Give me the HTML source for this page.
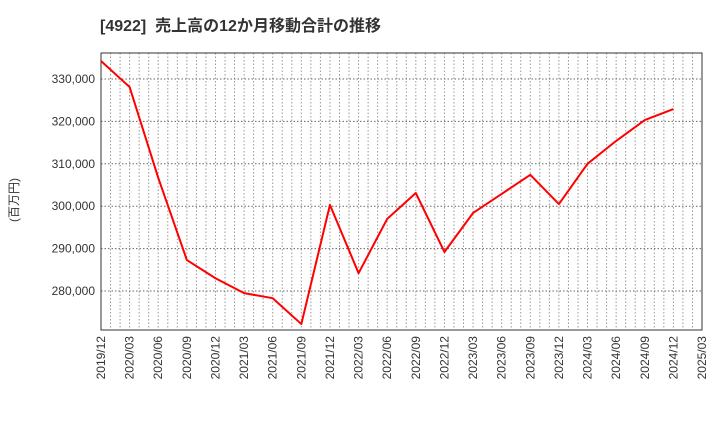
<!DOCTYPE html>
<html><head><meta charset="utf-8"><style>
body{margin:0;background:#fff;}
svg{display:block;font-family:"Liberation Sans","Noto Sans CJK JP",sans-serif;}
</style></head><body>
<svg id="c" width="720" height="440">
<text x="100" y="31" font-size="16" font-weight="bold" fill="#333">[4922]&#160;&#160;売上高の12か月移動合計の推移</text>
<text transform="translate(18,200) rotate(-90)" font-size="12" fill="#333" text-anchor="middle">(百万円)</text>
<g id="grid"></g><g id="axes"></g><g id="marks"></g>
</svg>
<script>
const xLabels=["2019/12","2020/03","2020/06","2020/09","2020/12","2021/03","2021/06","2021/09","2021/12","2022/03","2022/06","2022/09","2022/12","2023/03","2023/06","2023/09","2023/12","2024/03","2024/06","2024/09","2024/12","2025/03"];
const values=[334250,328100,306700,287300,283000,279500,278300,272200,300300,284200,297000,303100,289200,298400,302900,307400,300500,310000,315400,320300,322900];
const yTicks=[280000,290000,300000,310000,320000,330000];
const yTickLabels=["280,000","290,000","300,000","310,000","320,000","330,000"];
const L=101,R=702,T=53,B=330,yMin=270800,yMax=336130;
const ns="http://www.w3.org/2000/svg";
const xs=i=>L+(R-L)*i/(xLabels.length-1);
const ys=v=>B-(v-yMin)/(yMax-yMin)*(B-T);
function mk(p,t,a){const e=document.createElementNS(ns,t);for(const k in a)e.setAttribute(k,a[k]);document.getElementById(p).appendChild(e);return e;}
const n=(xLabels.length-1)*3;
for(let m=1;m<n;m++){const x=L+(R-L)*m/n;
 const g=mk('grid','line',{x1:x,x2:x,y1:T,y2:B,stroke:'#999','stroke-dasharray':'1.5,2','stroke-width':1});
 
 }
yTicks.forEach((v,i)=>{const y=ys(v);
 const g=mk('grid','line',{x1:L,x2:R,y1:y,y2:y,stroke:'#666','stroke-dasharray':'1.5,2','stroke-width':1});
 
 
 const t=mk('axes','text',{x:L-6,y:y+4,'font-size':12,'text-anchor':'end',fill:'#333'});t.textContent=yTickLabels[i];
 
 });
xLabels.forEach((l,i)=>{const x=xs(i);
 const t=mk('axes','text',{transform:`translate(${x+4},${B+6}) rotate(-90)`,'font-size':12,'text-anchor':'end',fill:'#333'});t.textContent=l;
 
 });
const f=mk('axes','rect',{x:L,y:T,width:R-L,height:B-T,fill:'none',stroke:'#333','stroke-width':1});


const p=mk('marks','polyline',{points:values.map((v,i)=>xs(i)+','+ys(v)).join(' '),fill:'none',stroke:'#f00','stroke-width':2,'stroke-linejoin':'round'});


</script>
</body></html>
